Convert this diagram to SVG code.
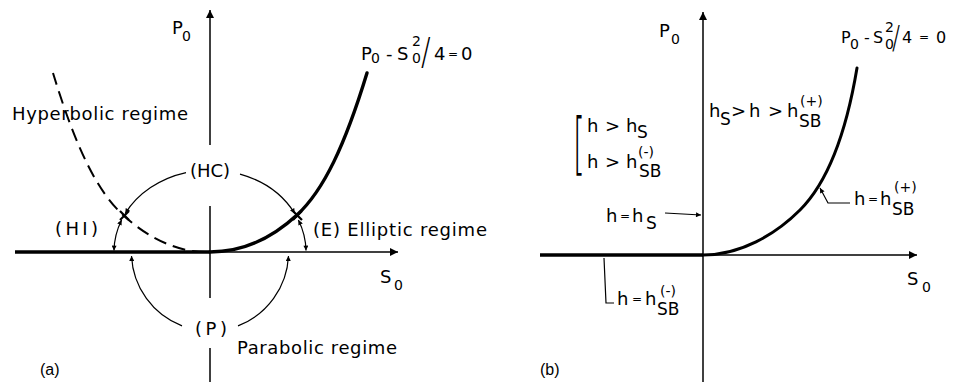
<svg xmlns="http://www.w3.org/2000/svg" width="955" height="382" viewBox="0 0 955 382">
<style>
  .t { font-family: "DejaVu Sans", "Liberation Sans", sans-serif; font-size: 18px; fill: #000; }
  .lb { font-size: 18px; }
  .sb { font-size: 14px; }
  .ss { font-size: 17px; }
  .eq { font-size: 12px; }
  .lt { font-family: "DejaVu Sans", "Liberation Sans", sans-serif; font-weight: 200; fill: #000; }
  .cap { font-family: "Liberation Sans", Arial, sans-serif; font-size: 16px; fill: #000; }
  .thin { fill: none; stroke: #000; stroke-width: 1.5; }
  .thick { fill: none; stroke: #000; stroke-width: 3.6; }
  .curve { fill: none; stroke: #000; stroke-width: 3.4; stroke-linecap: round; }
  .dash { fill: none; stroke: #000; stroke-width: 2; stroke-dasharray: 13 7; }
  .arc { fill: none; stroke: #000; stroke-width: 1.2; }
  .xm { stroke: #000; stroke-width: 2.2; }
</style>
<defs>
  <marker id="big" viewBox="0 0 10 10" refX="10" refY="5" markerWidth="13" markerHeight="8" markerUnits="userSpaceOnUse" orient="auto">
    <path d="M0,0 L10,5 L0,10 z" fill="#000"/>
  </marker>
  <marker id="ah" viewBox="0 0 10 10" refX="10" refY="5" markerWidth="7" markerHeight="5" markerUnits="userSpaceOnUse" orient="auto-start-reverse">
    <path d="M0,0 L10,5 L0,10 z" fill="#000"/>
  </marker>
</defs>

<!-- Panel (a) -->
<g id="axes-a">
  <line class="thick" x1="15" y1="252" x2="210" y2="252"/>
  <line class="thin" x1="210" y1="252" x2="398" y2="252" marker-end="url(#big)"/>
  <line class="thin" x1="210" y1="145" x2="210" y2="10" marker-end="url(#big)"/>
  <line class="thin" x1="210" y1="206" x2="210" y2="298"/>
  <line class="thin" x1="210" y1="348" x2="210" y2="382"/>
</g>
<g id="curves-a">
  <path id="elliptic-boundary" class="curve" d="M210,252 C240,252 270,240 297,215 S345,145 367,73"/>
  <path id="hyperbolic-boundary" class="dash" d="M205,252 C180,252 150,240 123,215 S75,145 53,73"/>
  <g id="cross-left">
    <line class="xm" x1="120" y1="211" x2="129" y2="220"/>
    <line class="xm" x1="120" y1="220" x2="129" y2="211"/>
  </g>
  <g id="cross-right">
    <line class="xm" x1="293" y1="211" x2="302" y2="220"/>
    <line class="xm" x1="293" y1="220" x2="302" y2="211"/>
  </g>
</g>
<g id="connectors-a">
  <path class="arc" d="M186,172.6 A96,82 0 0 0 125.2,213.5" marker-end="url(#ah)"/>
  <path class="arc" d="M240,174.1 A96,82 0 0 1 294.8,213.5" marker-end="url(#ah)"/>
  <path class="arc" d="M121.6,220 A96,82 0 0 0 114,250.6" marker-start="url(#ah)" marker-end="url(#ah)"/>
  <path class="arc" d="M298.4,220 A96,82 0 0 1 306,250.6" marker-start="url(#ah)" marker-end="url(#ah)"/>
  <path class="arc" d="M182,325.9 A79,79 0 0 1 131.5,256" marker-end="url(#ah)"/>
  <path class="arc" d="M238,325.9 A79,79 0 0 0 288.5,256" marker-end="url(#ah)"/>
</g>
<g id="labels-a">
  <text class="t"><tspan x="172" y="34">P</tspan><tspan class="sb" x="182" y="41">0</tspan></text>
  <text class="t"><tspan x="361" y="60">P</tspan><tspan class="sb" x="371" y="63">0</tspan><tspan x="386" y="60">-</tspan><tspan x="397" y="60">S</tspan><tspan class="sb" x="412" y="46">2</tspan><tspan class="sb" x="412" y="63">0</tspan><tspan x="434" y="60">4</tspan><tspan class="eq" x="448" y="58">=</tspan><tspan x="461" y="60">0</tspan></text>
  <text class="lt" transform="translate(421,64) scale(0.75,1)" style="font-size:38px">/</text>
  <text class="t lb" x="12" y="120" textLength="176" lengthAdjust="spacing">Hyperbolic regime</text>
  <text class="t lb" x="190" y="177" textLength="40" lengthAdjust="spacing">(HC)</text>
  <text class="t lb" x="55" y="235" textLength="43" lengthAdjust="spacing">(HI)</text>
  <text class="t lb" x="313" y="236" textLength="174" lengthAdjust="spacing">(E) Elliptic regime</text>
  <text class="t lb" x="195" y="335" textLength="32" lengthAdjust="spacing">(P)</text>
  <text class="t lb" x="237" y="354" textLength="160" lengthAdjust="spacing">Parabolic regime</text>
  <text class="t"><tspan x="380" y="283">S</tspan><tspan class="sb" x="394" y="290">0</tspan></text>
  <text class="cap" x="40" y="375">(a)</text>
</g>

<!-- Panel (b) -->
<g id="axes-b">
  <line class="thick" x1="540" y1="255" x2="703" y2="255"/>
  <line class="thin" x1="703" y1="255" x2="917" y2="255" marker-end="url(#big)"/>
  <line class="thin" x1="703" y1="382" x2="703" y2="12" marker-end="url(#big)"/>
</g>
<g id="curves-b">
  <path id="critical-curve" class="curve" style="stroke-width:3" d="M703,255 C740,255 775,235 800,210 S845,140 857,68"/>
</g>
<g id="connectors-b">
  <line class="arc" x1="665" y1="213" x2="701" y2="215" marker-end="url(#ah)"/>
  <path class="arc" d="M850,203 L828,203 L820,188" marker-end="url(#ah)"/>
  <path class="arc" d="M604,258 L606,303 L614,303"/>
</g>
<g id="labels-b">
  <text class="t"><tspan x="659" y="37">P</tspan><tspan class="sb" x="671" y="44">0</tspan></text>
  <text class="t" style="font-size:16px"><tspan x="841" y="43">P</tspan><tspan class="sb" x="850" y="49">0</tspan><tspan x="864" y="43">-</tspan><tspan x="873" y="43">S</tspan><tspan class="sb" x="885" y="32">2</tspan><tspan class="sb" x="885" y="49">0</tspan><tspan x="902" y="43">4</tspan><tspan class="eq" x="919" y="41">=</tspan><tspan x="936" y="43">0</tspan></text>
  <text class="lt" transform="translate(892,48) scale(0.75,1)" style="font-size:32px">/</text>
  <text class="lt" transform="translate(573,167) scale(0.45,1)" style="font-size:68px">[</text>
  <text class="t"><tspan x="587" y="132">h</tspan><tspan x="605" y="132">&gt;</tspan><tspan x="626" y="132">h</tspan><tspan class="ss" x="637" y="138">S</tspan></text>
  <text class="t"><tspan x="587" y="168">h</tspan><tspan x="605" y="168">&gt;</tspan><tspan x="626" y="168">h</tspan><tspan class="sb" x="638" y="157">(-)</tspan><tspan class="ss" x="639" y="177">SB</tspan></text>
  <text class="t"><tspan x="709" y="117">h</tspan><tspan class="ss" x="720" y="125">S</tspan><tspan x="731" y="117">&gt;</tspan><tspan x="749" y="117">h</tspan><tspan x="768" y="117">&gt;</tspan><tspan x="787" y="117">h</tspan><tspan class="sb" x="800" y="106">(+)</tspan><tspan class="ss" x="799" y="127">SB</tspan></text>
  <text class="t"><tspan x="854" y="205">h</tspan><tspan class="eq" x="868" y="203">=</tspan><tspan x="880" y="205">h</tspan><tspan class="sb" x="894" y="192">(+)</tspan><tspan class="ss" x="892" y="215">SB</tspan></text>
  <text class="t"><tspan x="606" y="222">h</tspan><tspan class="eq" x="620" y="220">=</tspan><tspan x="632" y="222">h</tspan><tspan class="ss" x="646" y="229">S</tspan></text>
  <text class="t"><tspan x="617" y="305">h</tspan><tspan class="eq" x="632" y="303">=</tspan><tspan x="645" y="305">h</tspan><tspan class="sb" x="660" y="296">(-)</tspan><tspan class="ss" x="657" y="315">SB</tspan></text>
  <text class="t"><tspan x="907" y="285">S</tspan><tspan class="sb" x="922" y="292">0</tspan></text>
  <text class="cap" x="540" y="375">(b)</text>
</g>
</svg>
